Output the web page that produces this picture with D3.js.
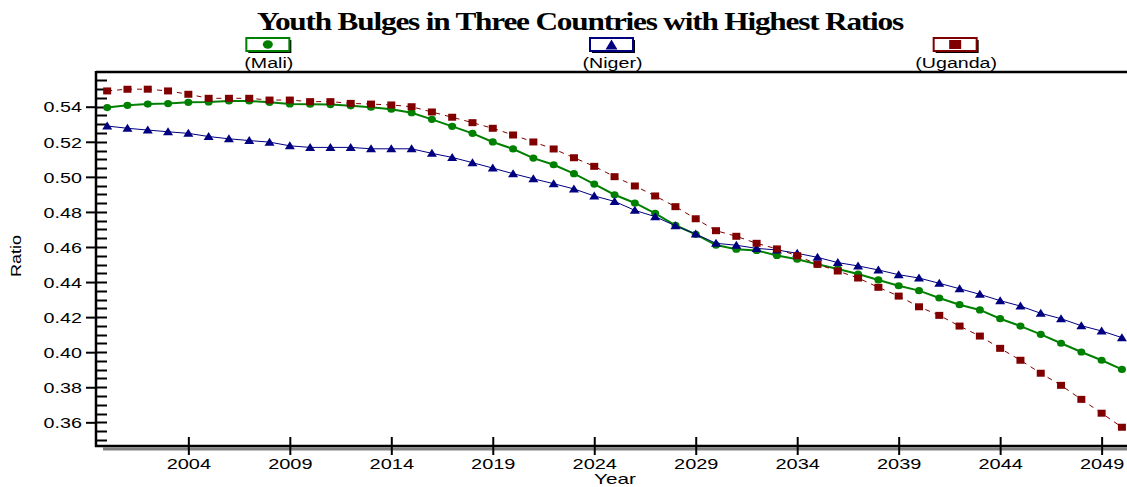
<!DOCTYPE html>
<html>
<head>
<meta charset="utf-8">
<script src="https://cdn.jsdelivr.net/npm/d3@7"></script>
<style>
  html, body { margin: 0; padding: 0; background: #fff; }
  svg { display: block; }
  text { font-family: "Liberation Sans", Arial, sans-serif; fill: #000; }
</style>
</head>
<body>
<svg id="chart" width="1127" height="487"></svg>
<script>
// ---------- data ----------
const years = d3.range(2000, 2051);
const mali = [0.5395,0.5408,0.5415,0.5418,0.5425,0.5427,0.5433,0.5433,0.5425,0.5416,
  0.5414,0.5412,0.5405,0.5397,0.5386,0.5366,0.5328,0.5288,0.5248,0.5199,
  0.5159,0.5107,0.5069,0.5018,0.4959,0.4898,0.4851,0.4792,0.4724,0.4672,
  0.4611,0.4587,0.4580,0.4552,0.4530,0.4501,0.4475,0.4446,0.4412,0.4379,
  0.4351,0.4309,0.4271,0.4241,0.4191,0.4149,0.4102,0.4051,0.4001,0.3954,0.3902];
const niger = [0.5290,0.5277,0.5267,0.5257,0.5248,0.5230,0.5217,0.5207,0.5198,0.5177,
  0.5168,0.5168,0.5168,0.5160,0.5160,0.5160,0.5134,0.5111,0.5081,0.5050,
  0.5018,0.4989,0.4961,0.4931,0.4891,0.4860,0.4809,0.4773,0.4721,0.4674,
  0.4621,0.4610,0.4592,0.4583,0.4564,0.4541,0.4511,0.4492,0.4469,0.4442,
  0.4423,0.4393,0.4362,0.4330,0.4294,0.4263,0.4222,0.4191,0.4151,0.4121,0.4083];
const uganda = [0.5490,0.5500,0.5500,0.5490,0.5471,0.5448,0.5448,0.5448,0.5438,0.5438,
  0.5429,0.5429,0.5419,0.5415,0.5410,0.5400,0.5370,0.5340,0.5309,0.5277,
  0.5239,0.5199,0.5159,0.5109,0.5060,0.5001,0.4948,0.4891,0.4830,0.4761,
  0.4693,0.4661,0.4621,0.4589,0.4550,0.4501,0.4463,0.4423,0.4370,0.4320,
  0.4259,0.4210,0.4149,0.4092,0.4022,0.3954,0.3880,0.3811,0.3731,0.3652,0.3572];
const seriesNames = ["(Mali)", "(Niger)", "(Uganda)"];
const xTickValues = [2004, 2009, 2014, 2019, 2024, 2029, 2034, 2039, 2044, 2049];
const yTickValues = [0.36, 0.38, 0.40, 0.42, 0.44, 0.46, 0.48, 0.50, 0.52, 0.54];
const yMinorTicks = d3.range(0.350, 0.5576, 0.005);
const title = "Youth Bulges in Three Countries with Highest Ratios";

// ---------- layout ----------
const svg = d3.select("#chart");
const L = 96, R = 1127, T = 72, B = 446;

const x = d3.scaleLinear().domain([1999.45, 2050.25]).range([L, R]);
const y = d3.scaleLinear().domain([0.3465, 0.5598]).range([B, T]);

function stretch(sel, f) {
  sel.each(function () {
    const len = this.getComputedTextLength();
    d3.select(this).attr("textLength", len * f).attr("lengthAdjust", "spacingAndGlyphs");
  });
}

const series = [
  { name: seriesNames[0], values: mali, color: "#008000", width: 2, dash: null, marker: "circle" },
  { name: seriesNames[1], values: niger, color: "#000080", width: 1, dash: null, marker: "triangle" },
  { name: seriesNames[2], values: uganda, color: "#800000", width: 1, dash: "5,5", marker: "square" }
];

// title
svg.append("text")
  .attr("x", 580).attr("y", 30)
  .attr("text-anchor", "middle")
  .style("font-family", "'Liberation Serif', 'Times New Roman', serif")
  .style("font-weight", "bold")
  .style("font-size", "26px")
  .style("letter-spacing", "-1px")
  .attr("textLength", 646).attr("lengthAdjust", "spacingAndGlyphs")
  .text(title);

// ---------- legend ----------
const third = (R - L) / 3;
series.forEach((s, i) => {
  const cx = L + third * (i + 0.5);
  const g = svg.append("g").attr("transform", `translate(${cx},0)`);
  const bw = 43, bh = 13, by = 38;
  g.append("rect").attr("x", -bw / 2 + 2).attr("y", by + 2).attr("width", bw).attr("height", bh).attr("fill", "#000");
  g.append("rect").attr("x", -bw / 2).attr("y", by).attr("width", bw).attr("height", bh)
    .attr("fill", "#fff").attr("stroke", s.color).attr("stroke-width", 2);
  const my = by + bh / 2;
  if (s.marker === "circle") {
    g.append("ellipse").attr("cx", 0).attr("cy", my).attr("rx", 5).attr("ry", 4.2).attr("fill", s.color);
  } else if (s.marker === "triangle") {
    g.append("path").attr("d", `M-6,${my + 5}L6,${my + 5}L0,${my - 5}Z`).attr("fill", s.color);
  } else {
    g.append("rect").attr("x", -6).attr("y", my - 4.5).attr("width", 12).attr("height", 9).attr("fill", s.color);
  }
  g.append("text").attr("x", 1).attr("y", 68).attr("text-anchor", "middle")
    .style("font-size", "14px").text(s.name).call(stretch, 1.4);
});

// ---------- frame ----------
svg.append("rect").attr("x", 103).attr("y", B + 1.5).attr("width", R - 103).attr("height", 3).attr("fill", "#808080");
svg.append("line").attr("x1", L).attr("x2", R).attr("y1", T).attr("y2", T).attr("stroke", "#000").attr("stroke-width", 2.5);
svg.append("line").attr("x1", L).attr("x2", L).attr("y1", T - 1).attr("y2", B + 1).attr("stroke", "#000").attr("stroke-width", 2.5);
svg.append("line").attr("x1", L - 1).attr("x2", R).attr("y1", B).attr("y2", B).attr("stroke", "#000").attr("stroke-width", 2.5);

// y minor ticks (inward)
svg.append("g").selectAll("line").data(yMinorTicks).join("line")
  .attr("x1", L).attr("x2", L + 11)
  .attr("y1", d => Math.round(y(d)) + 0.5).attr("y2", d => Math.round(y(d)) + 0.5)
  .attr("stroke", "#000").attr("stroke-width", 2);

// y axis (major ticks & labels) via d3 axis
const yAxis = svg.append("g").attr("transform", `translate(${L},0)`)
  .call(d3.axisLeft(y).tickValues(yTickValues).tickFormat(d3.format(".2f")).tickSize(10).tickPadding(4));
yAxis.select(".domain").remove();
yAxis.selectAll(".tick line").attr("stroke", "#000").attr("stroke-width", 2);
yAxis.selectAll(".tick text").attr("dy", "0.36em").style("font-size", "14.5px")
  .style("font-family", "'Liberation Sans', Arial, sans-serif").attr("fill", "#000").call(stretch, 1.36);

// x axis
const xAxis = svg.append("g").attr("transform", `translate(0,${B})`)
  .call(d3.axisBottom(x).tickValues(xTickValues).tickFormat(d3.format("d")).tickSize(9).tickPadding(5));
xAxis.select(".domain").remove();
xAxis.selectAll(".tick line").attr("y1", -9).attr("y2", 9).attr("stroke", "#000").attr("stroke-width", 2);
xAxis.selectAll(".tick text").attr("y", 23).attr("dy", 0).style("font-size", "15px")
  .style("font-family", "'Liberation Sans', Arial, sans-serif").attr("fill", "#000").call(stretch, 1.33);

// axis titles
svg.append("text").attr("x", 615).attr("y", 484).attr("text-anchor", "middle")
  .style("font-size", "15px").text("Year").call(stretch, 1.38);
svg.append("text").attr("transform", "translate(21,256) rotate(-90)").attr("text-anchor", "middle")
  .style("font-size", "15px").text("Ratio").call(stretch, 1.2);

// ---------- series ----------
const plot = svg.append("g");
const line = d3.line().x((d, i) => x(years[i])).y(d => y(d));
series.forEach(s => {
  const g = plot.append("g");
  g.append("path").attr("d", line(s.values)).attr("fill", "none")
    .attr("stroke", s.color).attr("stroke-width", s.width)
    .attr("stroke-dasharray", s.dash);
  const pts = g.selectAll(".m").data(s.values).join(s.marker === "circle" ? "ellipse" : "path");
  if (s.marker === "circle") {
    pts.attr("cx", (d, i) => x(years[i])).attr("cy", d => y(d)).attr("rx", 4).attr("ry", 3.6).attr("fill", s.color);
  } else if (s.marker === "triangle") {
    pts.attr("d", (d, i) => {
      const px = x(years[i]), py = y(d);
      return `M${px - 5},${py + 3.5}L${px + 5},${py + 3.5}L${px},${py - 4.5}Z`;
    }).attr("fill", s.color);
  } else {
    pts.attr("d", (d, i) => {
      const px = x(years[i]), py = y(d);
      return `M${px - 4},${py - 3.5}h8v7h-8Z`;
    }).attr("fill", s.color);
  }
});
</script>
</body>
</html>
